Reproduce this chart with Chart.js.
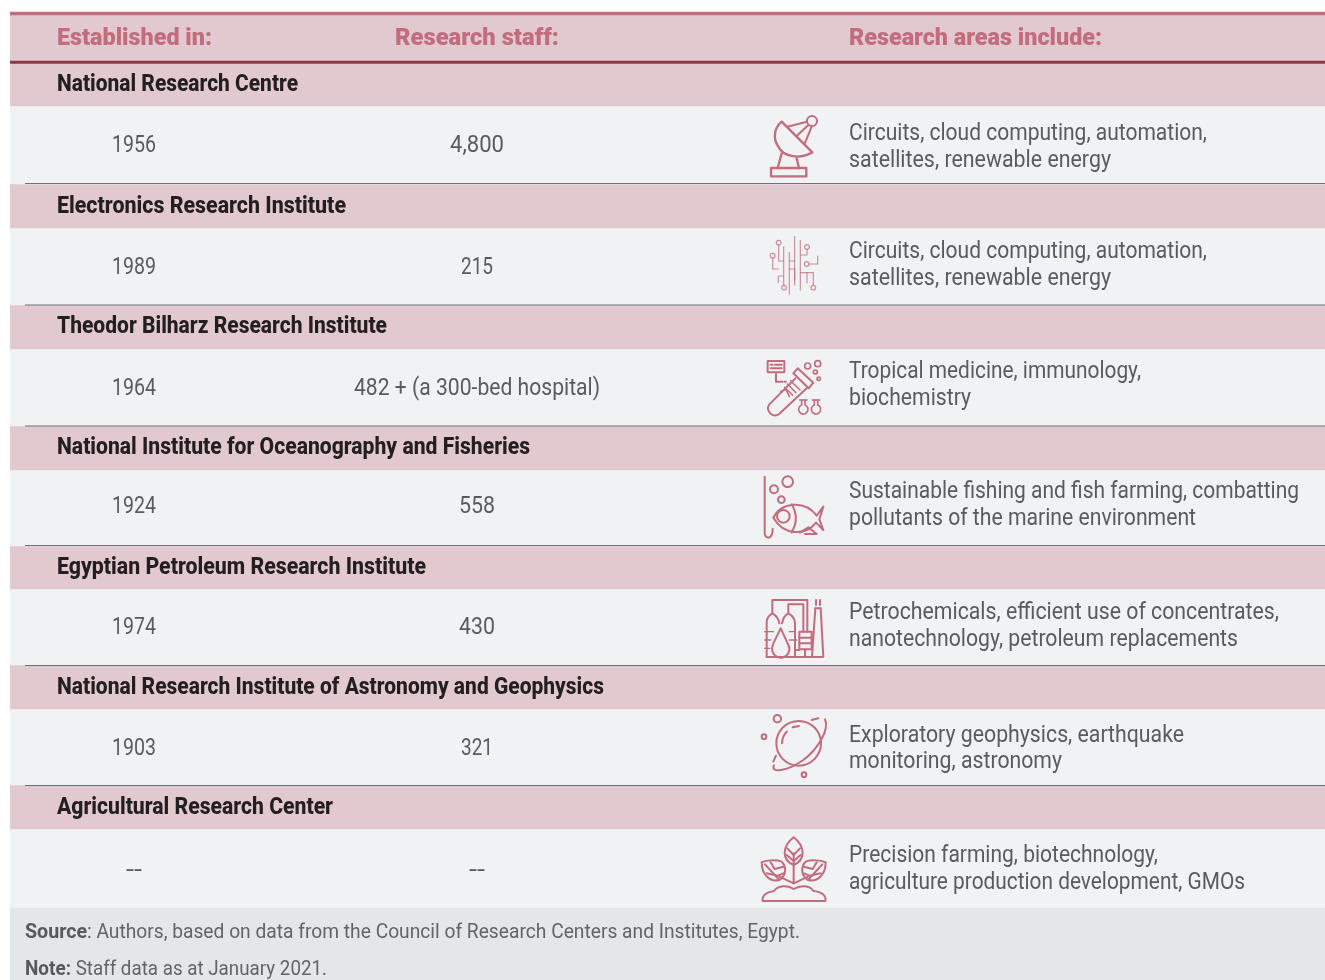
<!DOCTYPE html>
<html>
<head>
<meta charset="utf-8">
<title>Research institutes</title>
<script src="https://cdn.jsdelivr.net/npm/chart.js@4"></script>
<style>
  html, body { margin: 0; padding: 0; background: #fff; overflow: hidden; }
  canvas { display: block; }
</style>
</head>
<body>
<canvas id="tableChart" width="1325" height="980"></canvas>
<script>
const headers = ["Established in:", "Research staff:", "Research areas include:"];
const institutes = [
  "National Research Centre",
  "Electronics Research Institute",
  "Theodor Bilharz Research Institute",
  "National Institute for Oceanography and Fisheries",
  "Egyptian Petroleum Research Institute",
  "National Research Institute of Astronomy and Geophysics",
  "Agricultural Research Center",
];
const established = ["1956", "1989", "1964", "1924", "1974", "1903", "--"];
const staff = ["4,800", "215", "482 + (a 300-bed hospital)", "558", "430", "321", "--"];
const areas = [
  ["Circuits, cloud computing, automation,", "satellites, renewable energy"],
  ["Circuits, cloud computing, automation,", "satellites, renewable energy"],
  ["Tropical medicine, immunology,", "biochemistry"],
  ["Sustainable fishing and fish farming, combatting", "pollutants of the marine environment"],
  ["Petrochemicals, efficient use of concentrates,", "nanotechnology, petroleum replacements"],
  ["Exploratory geophysics, earthquake", "monitoring, astronomy"],
  ["Precision farming, biotechnology,", "agriculture production development, GMOs"],
];
const notes = [
  ["Source", ": Authors, based on data from the Council of Research Centers and Institutes, Egypt."],
  ["Note:", " Staff data as at January 2021."],
];

// layout, in page pixels (the y scale runs 0-980 down the page)
const nameTop = [63, 184, 305, 426, 546, 665, 785];
const rowTop = [106, 228, 349, 470, 589, 709, 829];
const rowBottom = [184, 305, 426, 546, 665, 785, 908];
const ruleY = [183.5, 305, 426, 545.5, 665.5, 785.5];
const valueY = [144, 266, 387, 505, 626, 747, 869];
const nameY = [83, 205, 325, 446, 566, 686, 806];
const areaY = [[132, 159], [250, 277], [370, 397], [490, 517], [611, 638], [734, 760], [854, 881]];
const nameEnd = [298, 346, 387, 530, 426, 604, 333];
const areaEnd = [[1207, 1111], [1207, 1111], [1141, 971], [1299, 1196], [1279, 1238], [1184, 1062], [1158, 1245]];
const yearW = [44, 44, 44, 44, 44, 44, 16];
const staffW = [54, 32, 246, 36, 36, 32, 16];

const PINK = "#e2c9d0";
const ROW = "#f1f2f4";
const ROSE = "#c26c7e";

function band(top, bottom, color, order) {
  return { type: "bar", data: [[top, bottom]], backgroundColor: color, grouped: false, order: order,
    barPercentage: 1, categoryPercentage: 1, borderWidth: 0, xAxisID: "x", yAxisID: "y" };
}
function rule(y) {
  return { type: "line", data: [{ x: 25, y: y }, { x: 1325, y: y }], borderColor: "#6f6f72", order: 1,
    borderWidth: 1, pointRadius: 0, xAxisID: "xp", yAxisID: "y" };
}

const datasets = [band(15, 63, PINK, 3), band(12, 15, ROSE, 2), band(61, 63.5, "#8a3a49", 2), band(908, 980, "#e5e6e8", 3)];
nameTop.forEach((t, i) => {
  datasets.push(band(t, rowTop[i], PINK, 3));
  datasets.push(band(rowTop[i], rowBottom[i], ROW, 3));
});
ruleY.forEach(y => datasets.push(rule(y)));

function fit(ctx, text, x, baseline, width, font, color) {
  ctx.font = font;
  ctx.fillStyle = color;
  ctx.textAlign = "left";
  ctx.textBaseline = "alphabetic";
  const w = ctx.measureText(text).width;
  ctx.save();
  ctx.translate(x, baseline);
  ctx.scale(width / w, 1);
  ctx.fillText(text, 0, 0);
  ctx.restore();
}

function circle(c, x, y, r) { c.beginPath(); c.arc(x, y, r, 0, Math.PI * 2); c.stroke(); }
function poly(c, pts) {
  c.beginPath();
  c.moveTo(pts[0], pts[1]);
  for (let i = 2; i < pts.length; i += 2) c.lineTo(pts[i], pts[i + 1]);
  c.stroke();
}

// icons are sketched in 3x units, origin given when they are placed
const icons = [
  function dish(c) {
    c.lineWidth = 7;
    c.strokeRect(63, 204, 106, 25);
    poly(c, [95, 160, 83, 204]);
    poly(c, [140, 175, 147, 204]);
    c.beginPath();
    c.moveTo(95, 65);
    c.lineTo(187, 157);
    c.bezierCurveTo(150, 180, 100, 170, 85, 140);
    c.bezierCurveTo(68, 115, 72, 85, 95, 65);
    c.stroke();
    c.lineWidth = 6;
    circle(c, 186, 63, 15);
    poly(c, [112, 80, 171, 65]);
    poly(c, [140, 108, 175, 75]);
    poly(c, [163, 133, 186, 78]);
  },
  function circuit(c) {
    c.lineWidth = 3.5;
    c.globalAlpha = 0.75;
    poly(c, [134, 410, 134, 555]);
    poly(c, [118, 458, 118, 583]);
    poly(c, [151, 422, 151, 570]);
    poly(c, [101, 440, 101, 555]);
    [[86, 428], [68, 467], [102, 563], [171, 441], [170, 492], [190, 563]].forEach(p => circle(c, p[0], p[1], 7));
    poly(c, [86, 435, 86, 483, 101, 483]);
    poly(c, [68, 474, 68, 507, 85, 507]);
    poly(c, [85, 548, 85, 528, 101, 528]);
    poly(c, [118, 483, 134, 483]);
    poly(c, [118, 507, 134, 507, 134, 540]);
    poly(c, [151, 465, 171, 465, 171, 448]);
    poly(c, [177, 492, 203, 492, 203, 468]);
    poly(c, [151, 518, 190, 518, 190, 556]);
    poly(c, [171, 518, 171, 548]);
  },
  function tube(c) {
    c.lineWidth = 6;
    c.strokeRect(53, 33, 50, 34);
    poly(c, [62, 44, 68, 44]);
    poly(c, [75, 44, 95, 44]);
    poly(c, [62, 55, 95, 55]);
    poly(c, [78, 72, 78, 95, 98, 95]);
    poly(c, [104, 95, 108, 95]);
    c.beginPath();
    c.moveTo(130, 70);
    c.lineTo(143, 55);
    c.lineTo(190, 98);
    c.lineTo(176, 115);
    c.closePath();
    c.stroke();
    c.beginPath();
    c.moveTo(136, 85);
    c.lineTo(58, 163);
    c.arc(75, 175, 21, Math.PI * 1.2, Math.PI * 0.3, true);
    c.lineTo(170, 115);
    c.stroke();
    c.lineWidth = 4.5;
    poly(c, [122, 92, 150, 120]);
    poly(c, [112, 102, 138, 128]);
    poly(c, [104, 112, 128, 136]);
    poly(c, [92, 124, 108, 118, 118, 140]);
    c.lineWidth = 5;
    circle(c, 173, 48, 9);
    circle(c, 203, 41, 9);
    circle(c, 196, 66, 6);
    circle(c, 206, 86, 5);
    [160, 198].forEach(x => {
      poly(c, [x - 11, 150, x + 11, 150]);
      c.beginPath();
      c.moveTo(x - 5, 150);
      c.lineTo(x - 5, 164);
      c.arc(x, 178, 14, Math.PI * 1.38, Math.PI * 1.62, true);
      c.lineTo(x + 5, 150);
      c.stroke();
    });
  },
  function fish(c) {
    c.lineWidth = 6;
    c.beginPath();
    c.moveTo(44, 380);
    c.lineTo(44, 550);
    c.quadraticCurveTo(46, 563, 56, 563);
    c.quadraticCurveTo(68, 560, 68, 536);
    c.stroke();
    circle(c, 72, 418, 12);
    circle(c, 113, 395, 16);
    circle(c, 94, 449, 10);
    c.beginPath();
    c.moveTo(70, 503);
    c.bezierCurveTo(95, 455, 165, 450, 200, 497);
    c.lineTo(220, 470);
    c.lineTo(208, 508);
    c.lineTo(220, 540);
    c.lineTo(198, 518);
    c.bezierCurveTo(165, 560, 100, 555, 70, 503);
    c.stroke();
    circle(c, 100, 499, 19);
    c.beginPath();
    c.moveTo(125, 463);
    c.quadraticCurveTo(150, 505, 125, 547);
    c.stroke();
    poly(c, [150, 548, 175, 532, 200, 552, 165, 552]);
  },
  function plant(c) {
    c.lineWidth = 6;
    c.beginPath();
    c.moveTo(50, 200);
    c.lineTo(50, 95);
    c.quadraticCurveTo(52, 78, 67, 70);
    c.quadraticCurveTo(85, 80, 88, 100);
    c.moveTo(96, 100);
    c.quadraticCurveTo(100, 78, 115, 70);
    c.quadraticCurveTo(134, 80, 135, 100);
    c.lineTo(135, 200);
    c.stroke();
    c.beginPath();
    c.moveTo(92, 115);
    c.quadraticCurveTo(80, 140, 70, 160);
    c.arc(92, 177, 26, Math.PI * 1.15, Math.PI * 1.85, true);
    c.quadraticCurveTo(104, 140, 92, 115);
    c.stroke();
    poly(c, [67, 68, 67, 30, 172, 30, 172, 125]);
    poly(c, [115, 68, 115, 43, 160, 43, 160, 125]);
    c.strokeRect(148, 125, 37, 53);
    poly(c, [148, 143, 185, 143]);
    poly(c, [148, 160, 185, 160]);
    poly(c, [165, 178, 165, 200]);
    poly(c, [135, 180, 148, 180]);
    poly(c, [50, 201, 218, 201]);
    poly(c, [196, 55, 212, 55]);
    poly(c, [196, 55, 186, 200]);
    poly(c, [212, 55, 220, 200]);
    poly(c, [198, 30, 198, 45]);
    poly(c, [210, 30, 210, 45]);
    c.lineWidth = 4;
    poly(c, [44, 125, 70, 125]);
    poly(c, [44, 150, 62, 150]);
    poly(c, [44, 175, 60, 175]);
    poly(c, [118, 125, 135, 125]);
    poly(c, [118, 150, 140, 150]);
  },
  function planet(c) {
    c.lineWidth = 6;
    circle(c, 146, 460, 67);
    c.beginPath();
    c.moveTo(72, 526);
    c.bezierCurveTo(60, 550, 110, 545, 160, 510);
    c.bezierCurveTo(200, 480, 240, 420, 225, 388);
    c.stroke();
    poly(c, [185, 390, 205, 385]);
    poly(c, [70, 515, 78, 497]);
    c.beginPath();
    c.arc(146, 460, 50, Math.PI * 1.0, Math.PI * 1.25);
    c.stroke();
    poly(c, [128, 412, 147, 408]);
    circle(c, 82, 386, 11);
    circle(c, 42, 440, 7);
    circle(c, 162, 554, 7);
  },
  function seedling(c) {
    c.lineWidth = 6;
    poly(c, [131, 85, 131, 175]);
    c.beginPath();
    c.moveTo(131, 37);
    c.bezierCurveTo(95, 65, 95, 105, 131, 120);
    c.bezierCurveTo(167, 105, 167, 65, 131, 37);
    c.stroke();
    poly(c, [112, 70, 131, 90, 150, 70]);
    poly(c, [110, 90, 131, 108, 152, 90]);
    [1, -1].forEach(s => {
      c.save();
      if (s < 0) { c.translate(262, 0); c.scale(-1, 1); }
      c.beginPath();
      c.moveTo(35, 112);
      c.bezierCurveTo(35, 150, 60, 172, 88, 165);
      c.bezierCurveTo(112, 150, 108, 122, 95, 110);
      c.bezierCurveTo(80, 104, 50, 105, 35, 112);
      c.stroke();
      poly(c, [45, 118, 88, 165]);
      poly(c, [62, 112, 74, 132, 100, 125]);
      poly(c, [50, 145, 84, 152, 100, 145]);
      poly(c, [131, 175, 88, 155]);
      c.restore();
    });
    c.beginPath();
    c.moveTo(38, 228);
    c.lineTo(226, 228);
    c.bezierCurveTo(230, 212, 215, 200, 190, 198);
    c.bezierCurveTo(180, 180, 150, 180, 131, 192);
    c.bezierCurveTo(115, 180, 85, 180, 72, 198);
    c.bezierCurveTo(50, 200, 35, 212, 38, 228);
    c.stroke();
  },
];
const iconOrigin = [[750, 100], [750, 100], [750, 350], [750, 350], [750, 590], [750, 590], [750, 825]];

const tableText = {
  id: "tableText",
  afterDatasetsDraw(chart) {
    const ctx = chart.ctx;
    const sx = chart.scales.xp;
    const sy = chart.scales.y;
    const BODY = "#5a5b5e";
    const HEAD = "900 23px Roboto";
    const NAME = "800 23px Roboto";
    const PLAIN = "400 23px Roboto";
    const at = (x, y) => [sx.getPixelForValue(x), sy.getPixelForValue(y)];

    fit(ctx, headers[0], at(57)[0], at(0, 44.5)[1], 155, HEAD, ROSE);
    fit(ctx, headers[1], at(395)[0], at(0, 44.5)[1], 164, HEAD, ROSE);
    fit(ctx, headers[2], at(849)[0], at(0, 44.5)[1], 253, HEAD, ROSE);

    institutes.forEach((name, i) => {
      fit(ctx, name, at(57)[0], sy.getPixelForValue(nameY[i] + 8), nameEnd[i] - 57, NAME, "#231f20");
      const base = sy.getPixelForValue(valueY[i] + 8);
      fit(ctx, established[i], sx.getPixelForValue(134 - yearW[i] / 2), base, yearW[i], PLAIN, BODY);
      fit(ctx, staff[i], sx.getPixelForValue(477 - staffW[i] / 2), base, staffW[i], PLAIN, BODY);
      areas[i].forEach((line, j) => {
        fit(ctx, line, at(849)[0], sy.getPixelForValue(areaY[i][j] + 8), areaEnd[i][j] - 849, PLAIN, BODY);
      });
      ctx.save();
      ctx.translate(sx.getPixelForValue(iconOrigin[i][0]), sy.getPixelForValue(iconOrigin[i][1]));
      ctx.scale(1 / 3, 1 / 3);
      ctx.strokeStyle = ROSE;
      ctx.lineJoin = "round";
      ctx.lineCap = "round";
      icons[i](ctx);
      ctx.restore();
    });

    const FOOT_B = "bold 20px Roboto";
    const FOOT = "20px Roboto";
    fit(ctx, notes[0][0], at(25)[0], at(0, 938)[1], 62, FOOT_B, "#58595b");
    fit(ctx, notes[0][1], at(87)[0], at(0, 938)[1], 713, FOOT, "#636466");
    fit(ctx, notes[1][0], at(25)[0], at(0, 975)[1], 46, FOOT_B, "#58595b");
    fit(ctx, notes[1][1], at(71)[0], at(0, 975)[1], 256, FOOT, "#636466");
  },
};

new Chart(document.getElementById("tableChart").getContext("2d"), {
  data: { labels: ["table"], datasets: datasets },
  options: {
    responsive: false,
    animation: false,
    layout: { padding: { left: 10 } },
    plugins: { legend: { display: false }, tooltip: { enabled: false } },
    scales: {
      x: { display: false, offset: true },
      xp: { type: "linear", display: false, min: 10, max: 1325 },
      y: { type: "linear", display: false, min: 0, max: 980, reverse: true },
    },
  },
  plugins: [tableText],
});
</script>
</body>
</html>
